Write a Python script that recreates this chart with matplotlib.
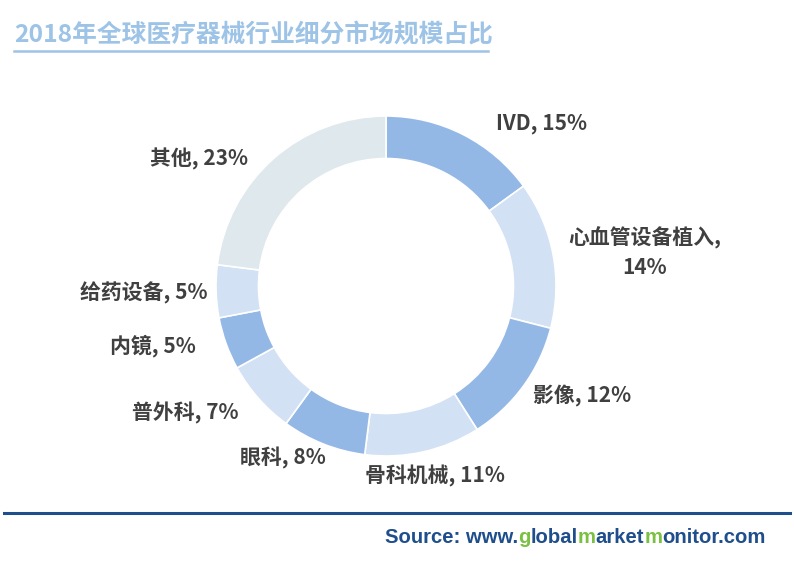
import matplotlib
matplotlib.use("Agg")
import matplotlib.pyplot as plt
from matplotlib.font_manager import FontProperties, findfont, get_font
from matplotlib.backends.backend_agg import get_hinting_flag

categories = ["IVD", "心血管设备植入", "影像", "骨科机械", "眼科", "普外科", "内镜", "给药设备", "其他"]
shares = [15, 14, 12, 11, 8, 7, 5, 5, 23]
title = "2018年全球医疗器械行业细分市场规模占比"
source_pieces = ["Source: www.", "g", "lobal", "m", "arket", "m", "onitor.com"]

DARK = "#94B8E6"
LIGHT = "#D2E1F4"
OTHER = "#DFE8EC"
colors = [DARK, LIGHT, DARK, LIGHT, DARK, LIGHT, DARK, LIGHT, OTHER]
NAVY, GREEN = "#1F4E8C", "#7AC143"
source_colors = [NAVY, GREEN, NAVY, GREEN, NAVY, GREEN, NAVY]

# label centres in pixels (layout)
label_pos = [(541, 124), (645, 252), (582, 396), (435, 476), (283, 458),
             (185, 413), (153, 346), (144, 293), (199, 159)]

plt.rcParams['font.family'] = ['Noto Sans CJK SC', 'DejaVu Sans']

W, H = 794, 561
DPI = 100
fig = plt.figure(figsize=(W / DPI, H / DPI), dpi=DPI)

cx, cy, r = 386, 286, 170
ax = fig.add_axes([(cx - r) / W, (H - cy - r) / H, 2 * r / W, 2 * r / H])
ax.pie(shares, colors=colors, startangle=90, counterclock=False, radius=1,
       wedgeprops=dict(width=0.25, edgecolor="white", linewidth=1.2))
ax.set_xlim(-1, 1)
ax.set_ylim(-1, 1)
ax.set_aspect("equal")
ax.axis("off")

for cat, v, (px, py) in zip(categories, shares, label_pos):
    if cat == "心血管设备植入":
        txt = f"{cat},\n{v}%"
        ls = 1.45
    else:
        txt = f"{cat}, {v}%"
        ls = 1.2
    fig.text(px / W, 1 - py / H, txt, ha="center", va="center", fontsize=15,
             fontweight="bold", color="#404040", linespacing=ls)

# title
fig.text(14 / W, 1 - 35 / H, title, ha="left", va="center", fontsize=17.8,
         fontweight="bold", color="#9DC3E6")
fig.add_artist(plt.Line2D([14 / W, 488 / W], [1 - 51 / H, 1 - 51 / H],
                          color="#9DC3E6", linewidth=1.8, transform=fig.transFigure))

# bottom rule
fig.add_artist(plt.Line2D([4 / W, 790 / W], [1 - 513 / H, 1 - 513 / H],
                          color=NAVY, linewidth=2.2, transform=fig.transFigure))

# source text with coloured letters, positioned with the renderer's own ink widths
SRC_FS = 14.6
fp = FontProperties(family="Liberation Sans", weight="bold")
font = get_font(findfont(fp))


def ink_width(s):
    font.clear()
    font.set_size(SRC_FS, DPI)
    font.set_text(s, 0.0, flags=get_hinting_flag())
    w, _ = font.get_width_height()
    return w / 64.0


src_kw = dict(fontsize=SRC_FS, fontweight="bold", family="Liberation Sans",
              ha="left", va="baseline")
x0, ybase = 385, 1 - 543 / H
prefix = ""
for s, c in zip(source_pieces, source_colors):
    prefix += s
    x = x0 + ink_width(prefix) - ink_width(s)
    fig.text(x / W, ybase, s, color=c, **src_kw)

fig.savefig("out.png", dpi=DPI, facecolor="white")
